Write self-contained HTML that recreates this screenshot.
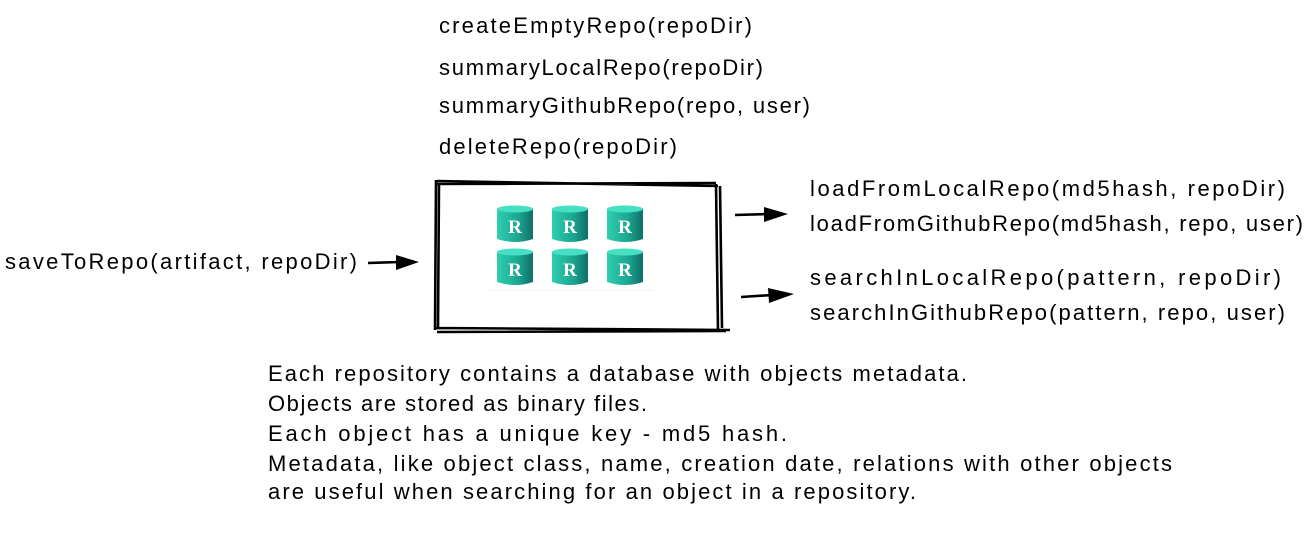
<!DOCTYPE html>
<html><head><meta charset="utf-8"><style>
html,body{margin:0;padding:0;background:#fff;}
svg text{font-family:"Liberation Sans",sans-serif;font-size:22px;fill:#000;}
</style></head><body>
<svg width="1310" height="531" viewBox="0 0 1310 531" xmlns="http://www.w3.org/2000/svg">
<defs>
<linearGradient id="cg" x1="0" x2="1">
<stop offset="0" stop-color="#2fcfb0"/><stop offset="0.6" stop-color="#1aa58f"/><stop offset="1" stop-color="#0f6f68"/>
</linearGradient>
<g id="cyl">
<path d="M0 4 Q18 -2 36 4 L36 34 Q18 40 0 34 Z" fill="url(#cg)"/>
<ellipse cx="18" cy="4" rx="18" ry="3.5" fill="#45e0c4"/>
<text x="18" y="28" text-anchor="middle" style="font-family:'Liberation Serif',serif;font-size:19px;font-weight:bold;fill:#fff">R</text>
</g>
</defs>
<text x="439" y="33" textLength="313">createEmptyRepo(repoDir)</text>
<text x="439" y="75" textLength="324">summaryLocalRepo(repoDir)</text>
<text x="439" y="113" textLength="371">summaryGithubRepo(repo, user)</text>
<text x="439" y="154" textLength="238">deleteRepo(repoDir)</text>
<text x="810" y="196" textLength="475">loadFromLocalRepo(md5hash, repoDir)</text>
<text x="810" y="231" textLength="493">loadFromGithubRepo(md5hash, repo, user)</text>
<text x="5" y="269" textLength="352">saveToRepo(artifact, repoDir)</text>
<text x="810" y="285" textLength="471">searchInLocalRepo(pattern, repoDir)</text>
<text x="810" y="320" textLength="475">searchInGithubRepo(pattern, repo, user)</text>
<text x="268" y="381" textLength="699">Each repository contains a database with objects metadata.</text>
<text x="268" y="411" textLength="379">Objects are stored as binary files.</text>
<text x="268" y="441" textLength="519">Each object has a unique key - md5 hash.</text>
<text x="268" y="471" textLength="904">Metadata, like object class, name, creation date, relations with other objects</text>
<text x="268" y="499" textLength="648">are useful when searching for an object in a repository.</text>
<g fill="none" stroke="#000" stroke-width="2.6">
<path d="M437 181 L718 186 M436 184 L716 183 M436 180 L435 330 M439 183 L438 328 M436 328 L730 330 M437 332 L726 331 M716 184 L718 331 M720 186 L722 328"/>
<path d="M368 263 L400 262 M735 215 L768 214 M741 297 L772 295"/>
</g>
<path d="M396 255 L419 262 L396 270 Z M764 207 L788 214 L764 222 Z M768 288 L794 294 L769 303 Z" fill="#000"/>
<g>
<use href="#cyl" x="497" y="205"/><use href="#cyl" x="552" y="205"/><use href="#cyl" x="607" y="205"/>
<use href="#cyl" x="497" y="248"/><use href="#cyl" x="552" y="248"/><use href="#cyl" x="607" y="248"/>
</g>
<line x1="488" y1="290" x2="653" y2="290" stroke="#eef0f2" stroke-width="1"/>
</svg>
</body></html>
